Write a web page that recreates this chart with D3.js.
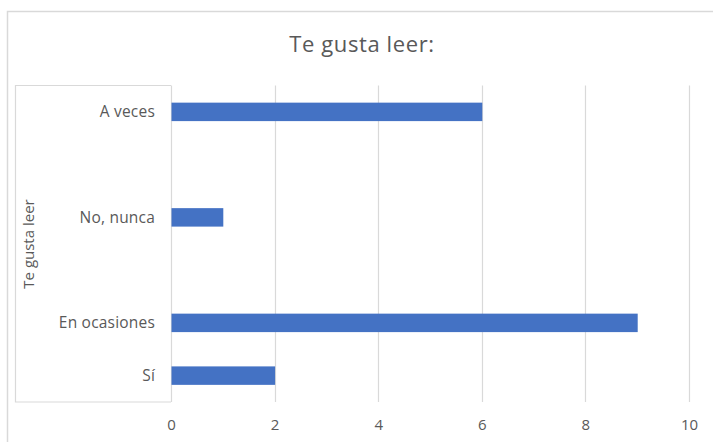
<!DOCTYPE html>
<html>
<head>
<meta charset="utf-8">
<script src="https://cdn.jsdelivr.net/npm/d3@7"></script>
<style>
  html, body { margin: 0; padding: 0; background: #fff; }
  svg { display: block; }
  text { font-family: "Open Sans", "Segoe UI", sans-serif; fill: #595959; }
</style>
</head>
<body>
<svg id="chart" width="713" height="442"></svg>
<script>
// Data (top to bottom as shown)
const categories = ["A veces", "", "No, nunca", "", "En ocasiones", "Sí"];
const values = [6, null, 1, null, 9, 2];
const xTicks = [0, 2, 4, 6, 8, 10];
const chartTitle = "Te gusta leer:";
const axisTitle = "Te gusta leer";

const svg = d3.select("#chart");

// Outer chart border (extends beyond the picture edges)
svg.append("rect")
  .attr("x", 7.5).attr("y", 11.5)
  .attr("width", 760).attr("height", 460)
  .attr("fill", "none").attr("stroke", "#d9d9d9").attr("stroke-width", 1.5);

const plotTop = 85.5, plotBottom = 402, plotLeft = 171, plotRight = 689;

const x = d3.scaleLinear().domain([0, 10]).range([plotLeft, plotRight]);
const y = d3.scaleBand()
  .domain(d3.range(categories.length))
  .range([plotTop, plotBottom])
  .paddingInner(0.65)
  .paddingOuter(0.325);

// Gridlines
svg.append("g").selectAll("line")
  .data(xTicks)
  .join("line")
  .attr("x1", d => Math.round(x(d)) + 0.5)
  .attr("x2", d => Math.round(x(d)) + 0.5)
  .attr("y1", plotTop)
  .attr("y2", plotBottom)
  .attr("stroke", "#d9d9d9")
  .attr("stroke-width", 1.2);

// Category axis box
const boxLeft = 15.5;
svg.append("path")
  .attr("d", `M${plotLeft},${plotTop}H${boxLeft}V${plotBottom}H${plotLeft}`)
  .attr("fill", "none").attr("stroke", "#d9d9d9").attr("stroke-width", 1.2);

// Bars
svg.append("g").selectAll("rect")
  .data(values.map((v, i) => ({ v, i })).filter(d => d.v != null))
  .join("rect")
  .attr("x", x(0) + 0.5)
  .attr("y", d => y(d.i))
  .attr("width", d => x(d.v) - x(0))
  .attr("height", y.bandwidth())
  .attr("fill", "#4472c4");

// Category labels
svg.append("g").selectAll("text")
  .data(categories.map((c, i) => ({ c, i })).filter(d => d.c !== ""))
  .join("text")
  .attr("x", 155)
  .attr("y", d => y(d.i) + y.bandwidth() / 2)
  .attr("dy", "0.35em")
  .attr("text-anchor", "end")
  .attr("font-size", 15.5)
  .attr("letter-spacing", 0.2)
  .text(d => d.c);

// X tick labels
const xAxis = d3.axisBottom(x).tickValues(xTicks).tickSize(0).tickPadding(0);
const gx = svg.append("g").attr("transform", `translate(0,${plotBottom})`).call(xAxis);
gx.select(".domain").remove();
gx.selectAll("text")
  .attr("y", 27.5)
  .attr("dy", 0)
  .attr("font-size", 15)
  .style("font-family", "'Open Sans', sans-serif")
  .style("fill", "#595959");

// Title
svg.append("text")
  .attr("x", 362).attr("y", 52)
  .attr("text-anchor", "middle")
  .attr("font-size", 22)
  .attr("letter-spacing", 0.6)
  .text(chartTitle);

// Axis title (rotated)
svg.append("text")
  .attr("transform", "translate(34,244) rotate(-90)")
  .attr("text-anchor", "middle")
  .attr("font-size", 15)
  .text(axisTitle);
</script>
</body>
</html>
